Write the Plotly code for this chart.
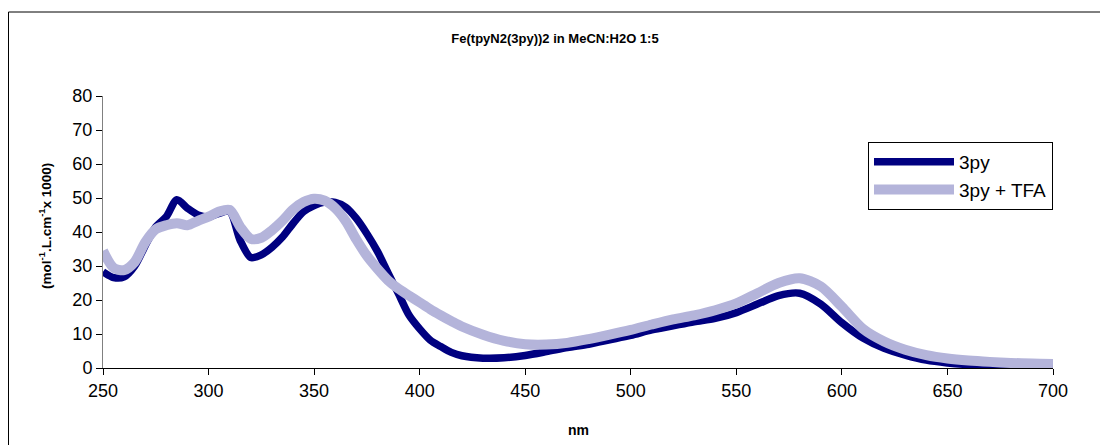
import plotly.graph_objects as go

wavelength = [250, 255, 260, 265, 270, 275, 280, 285, 290, 295, 300, 305, 310, 315, 320,
              325, 330, 335, 340, 345, 350, 355, 360, 365, 370, 375, 380, 385, 390, 395,
              400, 405, 410, 415, 420, 430, 440, 450, 460, 470, 480, 490, 500, 510, 520,
              530, 540, 550, 560, 570, 580, 590, 600, 610, 620, 630, 640, 650, 660, 670,
              680, 690, 700]

eps_3py = [28.3, 26.6, 26.8, 30.0, 36.0, 41.5, 44.5, 49.5, 47.0, 45.0, 44.4, 45.5, 46.0, 37.5, 32.5,
           33.3, 35.5, 38.5, 42.5, 46.0, 47.8, 48.8, 48.7, 47.3, 44.0, 39.5, 34.3, 28.0, 21.8, 15.5,
           11.5, 8.2, 6.3, 4.6, 3.6, 2.9, 3.0, 3.7, 4.8, 6.0, 7.0, 8.3, 9.6, 11.2, 12.4,
           13.6, 14.6, 16.3, 18.8, 21.3, 22.0, 18.8, 13.3, 8.8, 5.8, 3.8, 2.3, 1.5, 1.0, 0.9,
           0.9, 0.9, 0.9]

eps_3py_tfa = [34.5, 29.5, 28.8, 31.2, 37.0, 40.8, 42.0, 42.6, 42.0, 43.3, 44.5, 46.0, 46.5, 41.5, 38.0,
               38.3, 40.5, 43.3, 46.6, 48.8, 49.8, 49.2, 47.0, 43.2, 37.8, 33.0, 29.2, 25.8, 23.3, 21.3,
               19.3, 17.3, 15.5, 13.8, 12.2, 9.8, 8.0, 7.0, 6.9, 7.4, 8.5, 9.8, 11.2, 12.8, 14.3,
               15.5, 17.0, 19.0, 22.0, 25.0, 26.4, 24.0, 18.0, 11.5, 7.8, 5.4, 3.8, 2.8, 2.2, 1.8,
               1.5, 1.3, 1.2]

series_names = ["3py", "3py + TFA"]
x_ticks = [250, 300, 350, 400, 450, 500, 550, 600, 650, 700]
y_ticks = [0, 10, 20, 30, 40, 50, 60, 70, 80]

FONT = "Liberation Sans, Arial, sans-serif"

# page has an 8px body margin; plot area in page coords: x 103..1053, y 96..368
ML, MT, PW, PH = 95, 88, 950, 272

fig = go.Figure()
fig.add_trace(go.Scatter(x=wavelength, y=eps_3py, mode="lines", name=series_names[0],
                         line=dict(color="#000080", width=7.5, shape="spline", smoothing=0.8)))
fig.add_trace(go.Scatter(x=wavelength, y=eps_3py_tfa, mode="lines", name=series_names[1],
                         line=dict(color="#B4B4DA", width=10, shape="spline", smoothing=0.8)))

fig.update_layout(
    width=1108, height=445,
    margin=dict(l=ML, r=1108 - ML - PW, t=MT, b=445 - MT - PH, autoexpand=False),
    paper_bgcolor="white", plot_bgcolor="white",
    font=dict(family=FONT, color="black"),
    title=dict(text="<b>Fe(tpyN2(3py))2 in MeCN:H2O 1:5</b>", x=(555 - 8) / 1108, xanchor="center",
               y=1 - 30 / 445, yanchor="middle", font=dict(size=13, family=FONT)),
    showlegend=True,
    legend=dict(x=(868 - 103) / PW, y=(368 - 142) / PH, xanchor="left", yanchor="top",
                bordercolor="black", borderwidth=1, bgcolor="white",
                font=dict(size=19, family=FONT), itemwidth=80, tracegroupgap=2,
                traceorder="normal"),
    xaxis=dict(range=[250, 700], tickvals=x_ticks, ticks="outside", ticklen=6,
               tickcolor="black", showline=True, linecolor="black", linewidth=1,
               showgrid=False, zeroline=False, tickfont=dict(size=18, family=FONT)),
    yaxis=dict(range=[0, 80], tickvals=y_ticks, ticks="outside", ticklen=6,
               tickcolor="black", showline=True, linecolor="#808080", linewidth=1,
               showgrid=False, zeroline=False, tickfont=dict(size=18, family=FONT)),
    annotations=[
        dict(text="<b>(mol<sup>-1</sup>.L.cm<sup>-1</sup>x 1000)</b>", xref="paper", yref="paper",
             x=(45 - 103) / PW, y=(368 - 226) / PH, textangle=-90, showarrow=False,
             font=dict(size=13.5, family=FONT), xanchor="center", yanchor="middle"),
        dict(text="<b>nm</b>", xref="paper", yref="paper", x=(578 - 103) / PW, y=(368 - 430) / PH,
             showarrow=False, font=dict(size=14, family=FONT), xanchor="center", yanchor="middle"),
    ],
    shapes=[
        dict(type="rect", xref="paper", yref="paper", x0=(0.5 - ML) / PW, x1=(1096 - ML) / PW,
             y0=(368 - 470) / PH, y1=(368 - 12) / PH, line=dict(color="black", width=1),
             fillcolor="rgba(0,0,0,0)", layer="below"),
    ],
)

fig.write_html("out.html")
